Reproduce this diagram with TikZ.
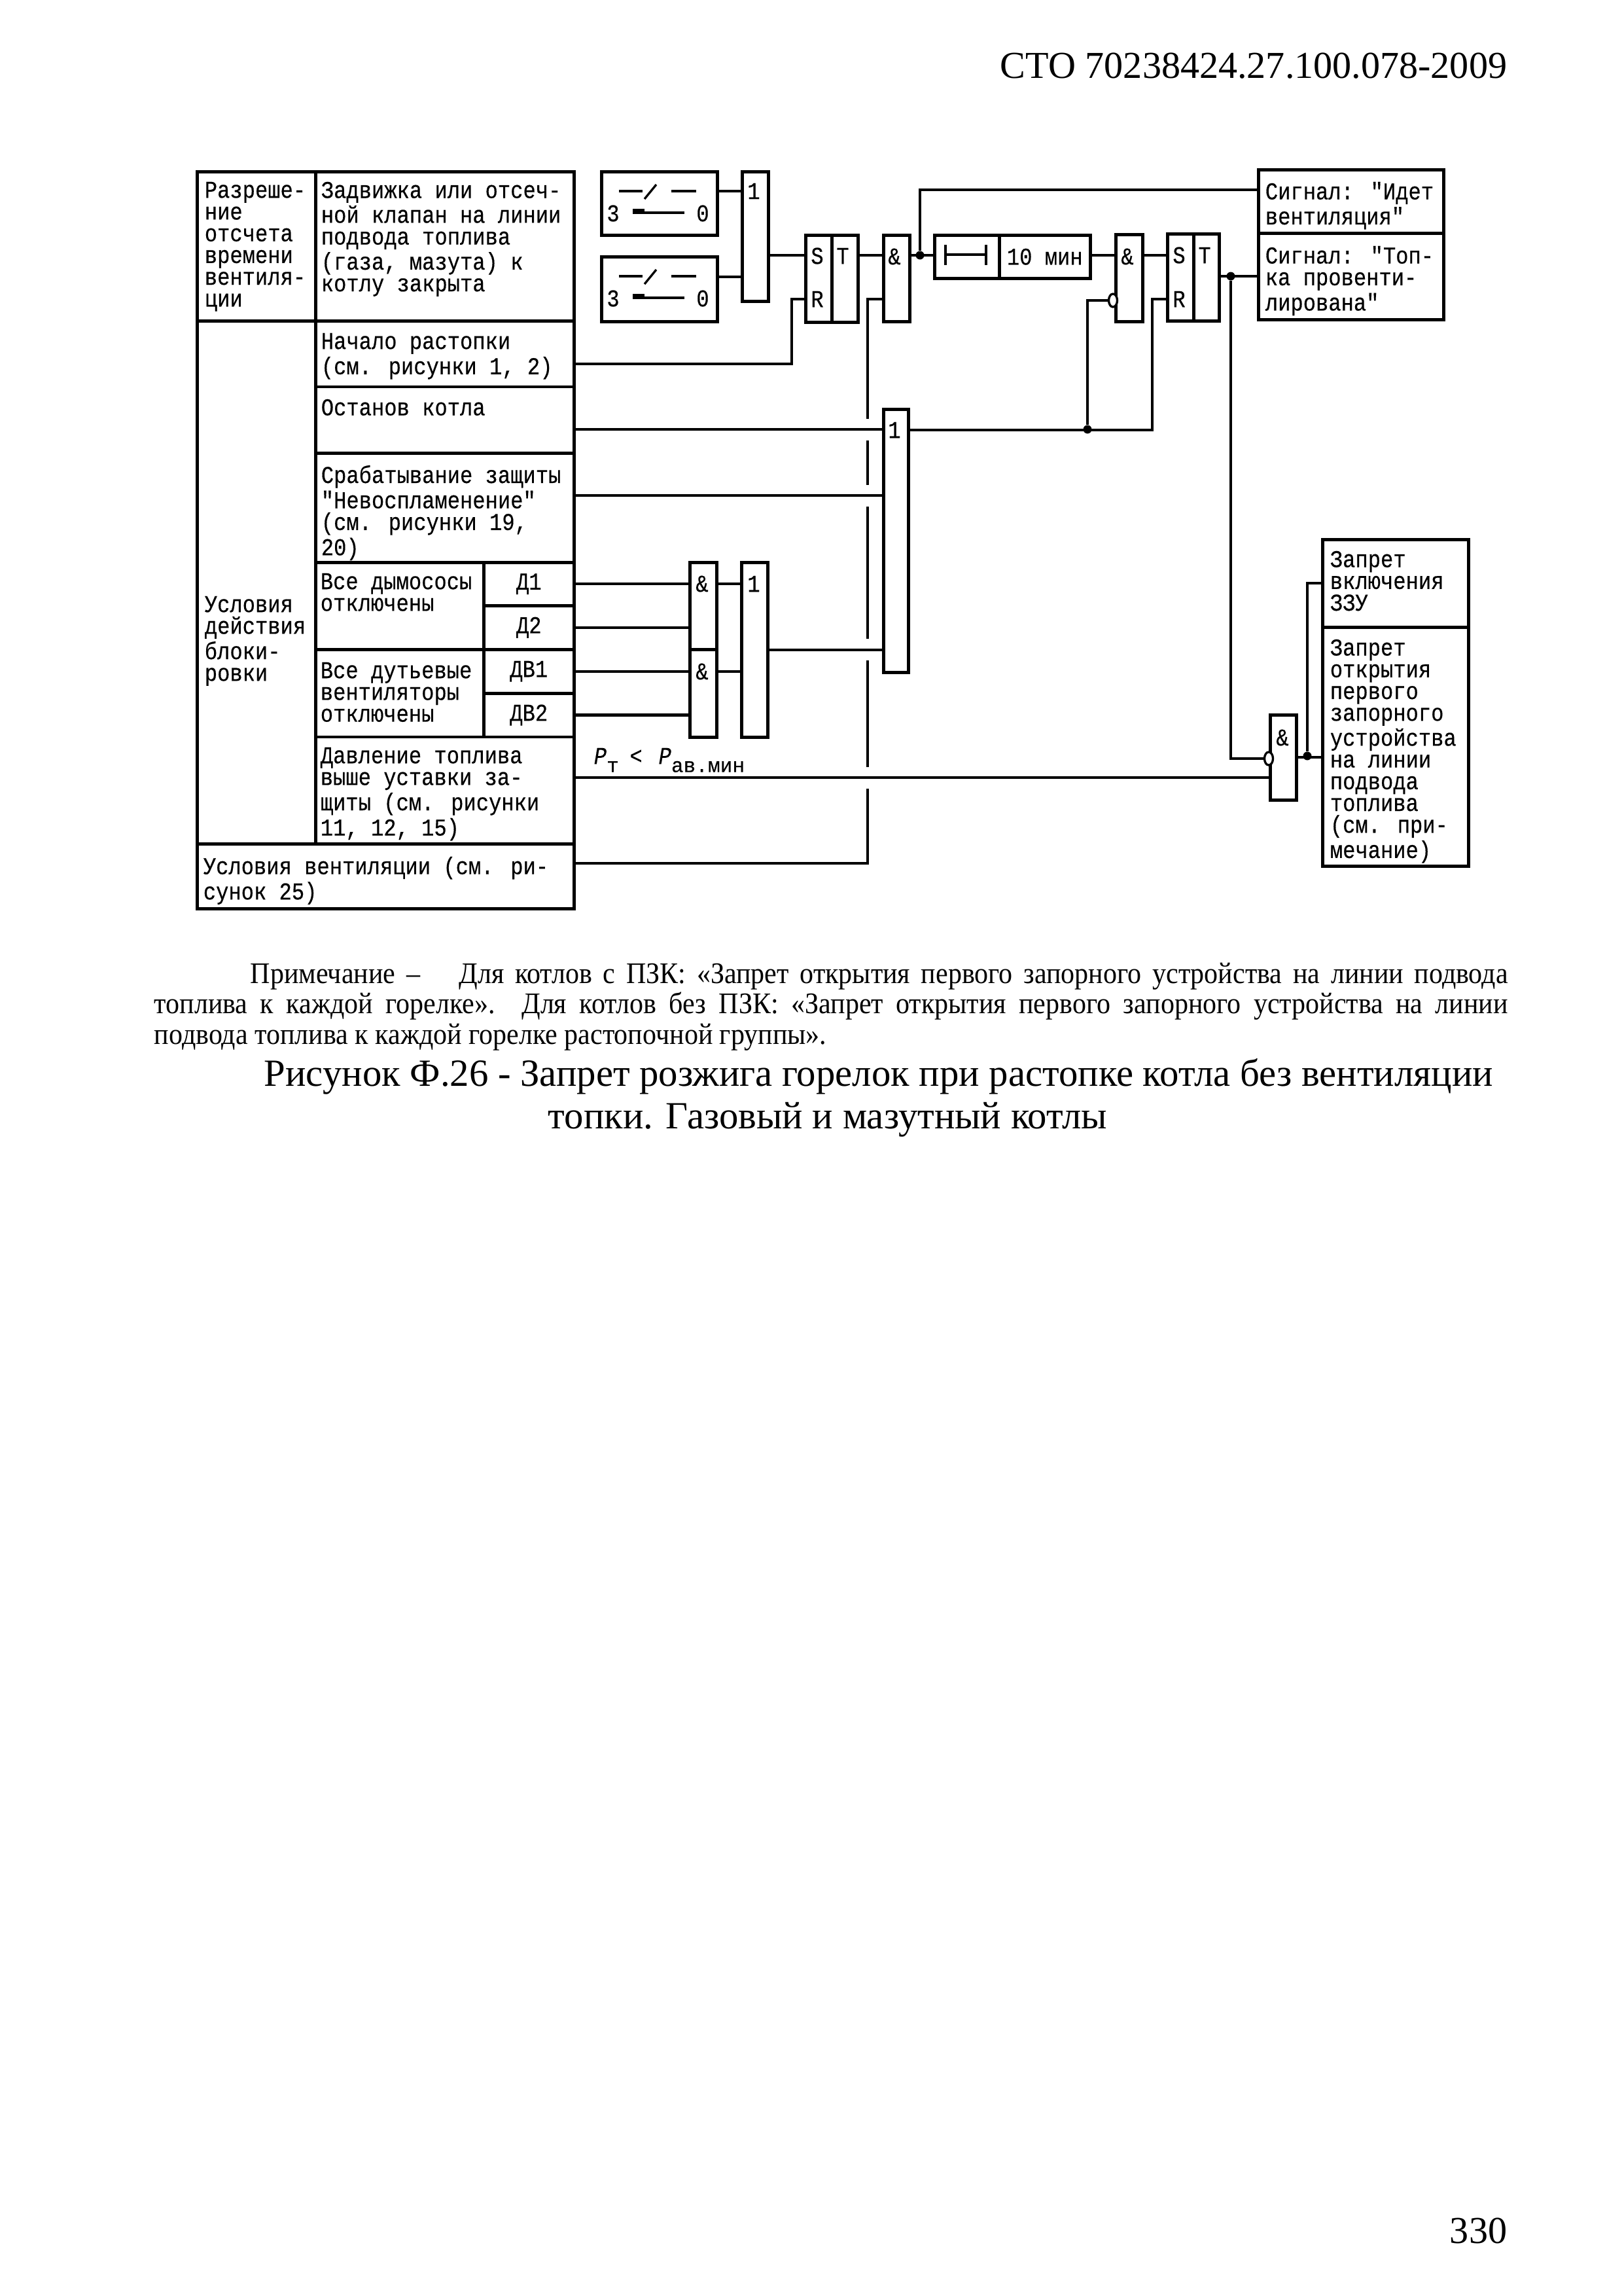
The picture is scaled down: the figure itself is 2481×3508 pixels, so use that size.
\documentclass[tikz,border=0pt]{standalone}
\usepackage{fontspec}
\usepackage{tikz}
\usetikzlibrary{positioning,shapes.geometric,calc}
\setmainfont{Liberation Serif}
\newfontfamily\cadfont[FakeStretch=0.87,FakeBold=0.4]{Liberation Mono}
\newfontfamily\cadsub[FakeBold=0.4]{Liberation Mono}
\newfontfamily\notefont[FakeStretch=0.92]{Liberation Serif}
\newcommand{\pxu}{0.08464mm}

\begin{document}
\begin{tikzpicture}[
  x=0.08464mm,y=-0.08464mm,
  box/.style 2 args={draw,line width=1.1pt,anchor=north west,inner sep=0pt,
               minimum width=#1*\pxu,minimum height=#2*\pxu},
  cadtext/.style={anchor=north west,inner sep=0pt,align=left,
               font=\cadfont\fontsize{8.9}{8}\selectfont},
  pinmark/.style={inner sep=0pt,font=\cadfont\fontsize{8.9}{8}\selectfont},
  wire/.style={line width=1pt},
  thinline/.style={line width=0.8pt},
  junction/.style={circle,fill=black,inner sep=0pt,minimum size=13*\pxu},
  inv/.style={ellipse,draw,fill=white,line width=0.8pt,inner sep=0pt,
               minimum width=13*\pxu,minimum height=20*\pxu},
  gapmark/.style={fill=white,inner sep=0pt,minimum width=14*\pxu,minimum height=33*\pxu},
  pagetext/.style={inner sep=0pt,anchor=base west}]

  \useasboundingbox (0,0) rectangle (2481,3508);

  % Page heading
  \node[pagetext,anchor=base east,font=\fontsize{14}{16}\selectfont] (heading) at (2304,119)
    {СТО 70238424.27.100.078-2009};

  % Left table, first rows
  \node[box={181}{228}] (colGrant) at (299,260) {};
  \node[box={395}{228}] (cellValve) at (480,260) {};
  \node[box={181}{799}] (colCond) at (299,488) {};
  \node[box={395}{100.5}] (cellStart) at (480,488) {};
  \node[box={395}{101.5}] (cellStop) at (480,588.5) {};
  \node[box={395}{167}] (cellFail) at (480,690) {};
  \node[box={257}{133}] (cellDraft) at (480,857) {};
  \node[box={138}{66}] (cellDa) at (737,857) {};
  \node[box={138}{67}] (cellDb) at (737,923) {};
  \node[box={257}{133.5}] (cellBlow) at (480,990) {};
  \node[box={138}{67}] (cellVa) at (737,990) {};
  \node[box={138}{66.5}] (cellVb) at (737,1057) {};
  \node[box={395}{163.5}] (cellPress) at (480,1123.5) {};
  \node[box={576}{99}] (cellVent) at (299,1287) {};

  % Table texts
  \node[cadtext] (txtGrant) at (312,277) {Разреше-\\ние\\отсчета\\времени\\вентиля-\\ции};
  \node[cadtext] (txtValve) at (490,277) {Задвижка или отсеч-\\ной клапан на линии\\подвода топлива\\(газа, мазута) к\\котлу закрыта};
  \node[cadtext] (txtStart) at (490,508) {Начало растопки\\(см. рисунки 1, 2)};
  \node[cadtext] (txtStop) at (490,609) {Останов котла};
  \node[cadtext] (txtFail) at (490,710) {Срабатывание защиты\\"Невоспламенение"\\(см. рисунки 19,\\20)};
  \node[cadtext] (txtCond) at (312,910) {Условия\\действия\\блоки-\\ровки};
  \node[cadtext] (txtDraft) at (489,875) {Все дымососы\\отключены};
  \node[cadtext] (txtBlow) at (489,1011) {Все дутьевые\\вентиляторы\\отключены};
  \node[cadtext] (txtPress) at (489,1141) {Давление топлива\\выше уставки  за-\\щиты (см. рисунки\\11, 12, 15)};
  \node[cadtext] (txtVent) at (310,1308) {Условия вентиляции (см. ри-\\сунок 25)};
  \node[pinmark] at (cellDa) (txtDa) {Д1};
  \node[pinmark] at (cellDb) (txtDb) {Д2};
  \node[pinmark] at (cellVa) (txtVa) {ДВ1};
  \node[pinmark] at (cellVb) (txtVb) {ДВ2};

  % Switch blocks
  \node[box={177}{97}] (swA) at (917,260) {};
  \node[box={177}{99}] (swB) at (917,390) {};
  \foreach \sw in {swA,swB} {
    \draw[thinline] ([shift={(29,32)}]\sw.north west) -- ++(36,0);
    \draw[thinline] ([shift={(68,44)}]\sw.north west) -- ++(18,-22);
    \draw[thinline] ([shift={(109,32)}]\sw.north west) -- ++(38,0);
    \draw[thinline] ([shift={(50,65)}]\sw.north west) -- ++(79,0);
    \draw[thinline] ([shift={(50,61)}]\sw.north west) -- ++(18,0);
    \node[pinmark] (\sw three) at ([shift={(20,66)}]\sw.north west) {3};
    \node[pinmark] (\sw zero) at ([shift={(157,66)}]\sw.north west) {0};
  }

  % Logic blocks, top row
  \node[box={40}{198}] (orA) at (1132,260) {};
  \node[pinmark] (orAmark) at (1152,292) {1};
  \node[box={40}{133}] (srAs) at (1229,357) {};
  \node[box={40}{133}] (srAt) at (1269,357) {};
  \node[pinmark] (srAsmark) at (1249,391) {S};
  \node[pinmark] (srAtmark) at (1288,391) {T};
  \node[pinmark] (srArmark) at (1249,457) {R};
  \node[box={40}{132}] (andA) at (1348,357) {};
  \node[pinmark] (andAmark) at (1367,392) {\&};
  \node[box={99}{66}] (timerA) at (1426,357) {};
  \node[box={139}{66}] (timerB) at (1525,357) {};
  \node[pinmark] (timerText) at (timerB) {10 мин};
  \node[box={41}{133}] (andB) at (1703,356) {};
  \node[pinmark] (andBmark) at (1723,392) {\&};
  \node[inv] (andBinv) at (1701,459) {};
  \node[box={40}{133}] (srBs) at (1782,355) {};
  \node[box={39}{133}] (srBt) at (1822,355) {};
  \node[pinmark] (srBsmark) at (1802,390) {S};
  \node[pinmark] (srBtmark) at (1841,390) {T};
  \node[pinmark] (srBrmark) at (1802,457) {R};

  % Signal boxes
  \node[box={283}{97}] (sigA) at (1921,257) {};
  \node[box={283}{132}] (sigB) at (1921,354) {};
  \node[cadtext] (txtSigA) at (1933,277) {Сигнал: "Идет\\вентиляция"};
  \node[cadtext] (txtSigB) at (1933,375) {Сигнал: "Топ-\\ка провенти-\\лирована"};

  % Lower logic blocks
  \node[box={38}{402}] (orB) at (1348,623) {};
  \node[pinmark] (orBmark) at (1367,657) {1};
  \node[box={41}{133}] (andC) at (1052,857) {};
  \node[box={41}{134}] (andD) at (1052,990) {};
  \node[pinmark] (andCmark) at (1073,892) {\&};
  \node[pinmark] (andDmark) at (1073,1026) {\&};
  \node[box={40}{267}] (orC) at (1131,857) {};
  \node[pinmark] (orCmark) at (1152,892) {1};
  \node[box={40}{130}] (andE) at (1939,1090) {};
  \node[pinmark] (andEmark) at (1960,1127) {\&};
  \node[box={223}{134}] (banA) at (2019,822) {};
  \node[box={223}{365}] (banB) at (2019,956) {};
  \node[cadtext] (txtBanA) at (2032,841) {Запрет\\включения\\ЗЗУ};
  \node[cadtext] (txtBanB) at (2032,976) {Запрет\\открытия\\первого\\запорного\\устройства\\на линии\\подвода\\топлива\\(см. при-\\мечание)};

  % Pressure label
  \node[cadtext] (txtRatio) at (907,1142)
    {\itshape P\raisebox{-3pt}{\cadsub\upshape\fontsize{7.5}{8}\selectfont т}\hspace{4pt}{\upshape <}\hspace{6pt}P\raisebox{-3pt}{\cadsub\upshape\fontsize{7.5}{8}\selectfont ав.мин}};

  % Timer symbol
  \draw[thinline] ([shift={(19,17)}]timerA.north west) -- ++(0,31);
  \draw[thinline] ([shift={(81,17)}]timerA.north west) -- ++(0,31);
  \draw[wire] ([shift={(19,32)}]timerA.north west) -- ([shift={(81,32)}]timerA.north west);

  % Pin coordinates
  \coordinate (rowMain) at (0,390);
  \coordinate (pinSwB) at (917,423);
  \coordinate (pinStart) at (875,556);
  \coordinate (pinStop) at (875,656);
  \coordinate (pinFail) at (875,757);
  \coordinate (pinPress) at (875,1188);
  \coordinate (pinVent) at (875,1319);
  \coordinate (pinSig) at (1921,290);
  \coordinate (kneeStart) at (1210,457);
  \coordinate (kneeBus) at (1326,457);
  \coordinate (kneeReset) at (1761,457);
  \node[junction] (dotA) at (1406,390) {};
  \node[junction] (dotB) at (1881,422) {};
  \node[junction] (dotC) at (1662,656) {};
  \node[junction] (dotD) at (1998,1155) {};
  \node[inv] (andEinv) at (1939,1159) {};

  % Wires into the first gates
  \draw[wire] (swA.east |- orAmark) -- (orAmark -| orA.west);
  \draw[wire] (pinSwB -| swB.east) -- (pinSwB -| orA.west);
  \draw[wire] (orA.east |- rowMain) -- (rowMain -| srAs.west);
  \draw[wire] (pinStart) -| (kneeStart) -- (kneeStart -| srAs.west);
  \draw[wire] (srAt.east |- rowMain) -- (rowMain -| andA.west);
  \draw[wire] (andA.east |- rowMain) -- (rowMain -| timerA.west);
  \draw[wire] (timerB.east |- rowMain) -- (rowMain -| andB.west);
  \draw[wire] (andB.east |- rowMain) -- (rowMain -| srBs.west);
  \draw[wire] (dotA) |- (pinSig);

  % Collecting line into the first AND block
  \draw[wire] (pinVent) -| (kneeBus) -- (kneeBus -| andA.west);
  \foreach \crossing [count=\n] in {pinStop,pinFail,orC.east,pinPress}
    \node[gapmark] (gap\n) at (kneeBus |- \crossing) {};

  % Wires into the big OR block
  \draw[wire] (pinStop) -- (pinStop -| orB.west);
  \draw[wire] (pinFail) -- (pinFail -| orB.west);
  \draw[wire] (orC.east) -- (orC.east -| orB.west);
  \draw[wire] (pinPress) -- (andE.west |- pinPress);

  % Fans
  \draw[wire] (cellDa.east) -- (cellDa.east -| andC.west);
  \draw[wire] (cellDb.east) -- (cellDb.east -| andC.west);
  \draw[wire] (cellVa.east) -- (cellVa.east -| andD.west);
  \draw[wire] (cellVb.east) -- (cellVb.east -| andD.west);
  \draw[wire] (andC.east |- andCmark) -- (andCmark -| orC.west);
  \draw[wire] (andD.east |- andDmark) -- (andDmark -| orC.west);

  % Reset line and outputs
  \draw[wire] (orBmark -| orB.east) -| (kneeReset) -- (kneeReset -| srBs.west);
  \draw[wire] (dotC) |- (andBinv.west);
  \draw[wire] (dotB -| srBt.east) -- (dotB -| sigB.west);
  \draw[wire] (dotB) |- (andEinv.west);
  \draw[wire] (andE.east) -- (andE.east -| banB.west);
  \draw[wire] (dotD) |- (banA.west);

  % Note and caption
  \node[pagetext,anchor=north west,text width=2069*\pxu,align=justify,
        font=\notefont\fontsize{11}{11.2}\selectfont] (note) at (235,1470)
    {\hspace*{12.44mm}Примечание –\hspace{1.3em}Для котлов с ПЗК: «Запрет открытия первого запорного устройства на линии подвода\linebreak
     топлива к каждой горелке». Для котлов без ПЗК: «Запрет открытия первого запорного устройства на линии\linebreak
     подвода топлива к каждой горелке растопочной группы».};
  \node[pagetext,font=\fontsize{14.15}{16}\selectfont] (capA) at (403,1659)
    {Рисунок Ф.26 - Запрет розжига горелок при растопке котла без вентиляции};
  \node[pagetext,font=\fontsize{14.15}{16}\selectfont] (capB) at (837,1724)
    {топки. Газовый и мазутный котлы};
  \node[pagetext,anchor=base east,font=\fontsize{14}{16}\selectfont] (pageNo) at (2304,3427) {330};

\end{tikzpicture}
\end{document}
